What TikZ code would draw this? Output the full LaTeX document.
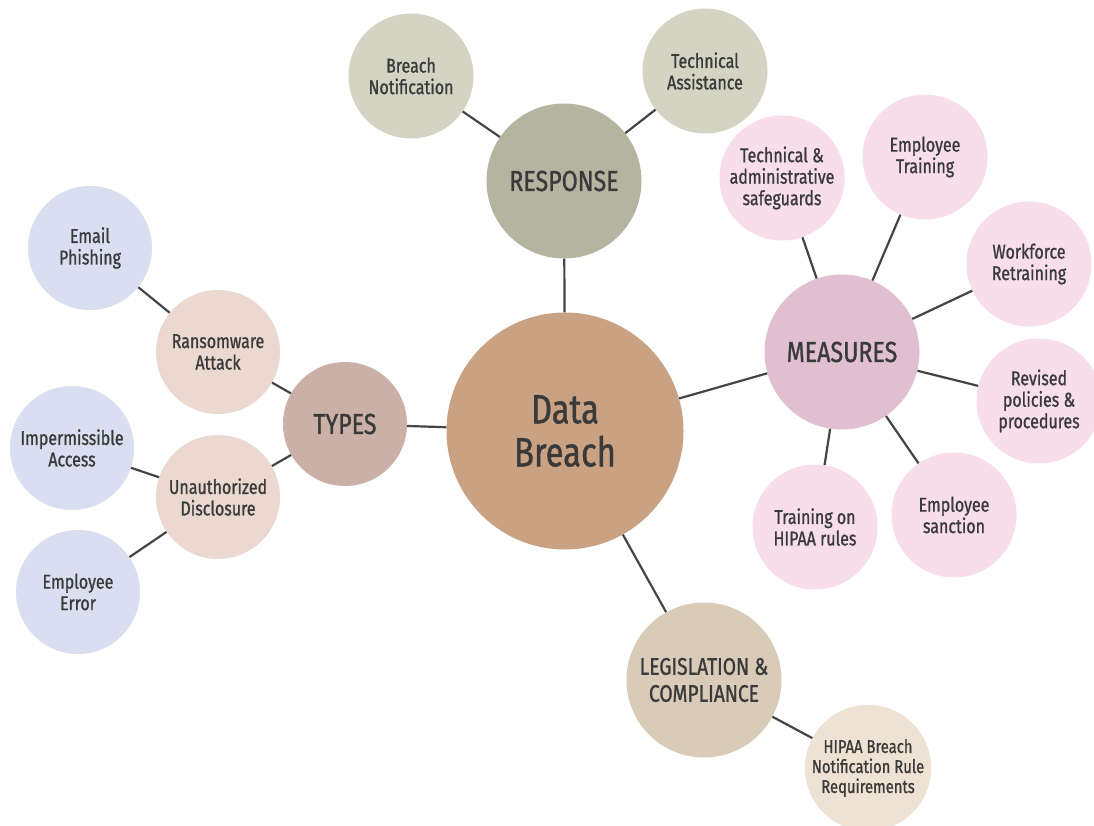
\documentclass[tikz,border=0pt]{standalone}
\usepackage{fontspec}
\setmainfont{Fira Sans}[FakeStretch=0.8,FakeBold=1]
\definecolor{txt}{HTML}{3A3A3A}
\definecolor{lnk}{HTML}{454545}
\definecolor{cData}{HTML}{C9A283}
\definecolor{cResp}{HTML}{B4B4A1}
\definecolor{cRespL}{HTML}{D4D4C4}
\definecolor{cMeas}{HTML}{E0BFD0}
\definecolor{cMeasL}{HTML}{F8DEEB}
\definecolor{cTypes}{HTML}{CBB0A8}
\definecolor{cTypesM}{HTML}{EBD8D0}
\definecolor{cTypesL}{HTML}{D9DFF1}
\definecolor{cLeg}{HTML}{D8CBB8}
\definecolor{cLegL}{HTML}{EDE2D3}
\begin{document}
\begin{tikzpicture}[x=1pt,y=-1pt,
  bub/.style={circle, inner sep=0pt, align=center, text=txt},
  leaf/.style={bub, minimum size=125pt, font=\fontsize{20}{21.5}\selectfont},
  hub/.style={bub, minimum size=155pt, font=\fontsize{29}{30}\selectfont},
  link/.style={draw=lnk, line width=2.2pt}]
\useasboundingbox (0,0) rectangle (1094,826);
\fill[white] (0,0) rectangle (1094,826);

% centre
\node[bub, minimum size=237pt, fill=cData, font=\fontsize{41}{43}\selectfont] (db) at (565,431) {Data\\Breach};

% response
\node[hub, fill=cResp] (resp) at (564,181) {RESPONSE};
\node[leaf, fill=cRespL] (bn) at (411,76) {Breach\\Notification};
\node[leaf, fill=cRespL] (ta) at (705,71) {Technical\\Assistance};

% measures
\node[hub, fill=cMeas] (meas) at (842,352) {MEASURES};
\node[leaf, fill=cMeasL] (tas) at (782,178) {Technical \&\\administrative\\safeguards};
\node[leaf, fill=cMeasL] (et) at (925,157) {Employee\\Training};
\node[leaf, fill=cMeasL] (wr) at (1029,264) {Workforce\\Retraining};
\node[leaf, fill=cMeasL] (rp) at (1039,401) {Revised\\policies \&\\procedures};
\node[leaf, fill=cMeasL] (es) at (954,515) {Employee\\sanction};
\node[leaf, fill=cMeasL] (th) at (815,527) {Training on\\HIPAA rules};

% types
\node[hub, minimum size=124pt, fill=cTypes] (types) at (345,424) {TYPES};
\node[leaf, minimum size=124pt, fill=cTypesM] (ra) at (218,352) {Ransomware\\Attack};
\node[leaf, minimum size=124pt, fill=cTypesM] (ud) at (218,497) {Unauthorized\\Disclosure};
\node[leaf, minimum size=124pt, fill=cTypesL] (ep) at (90,248) {Email\\Phishing};
\node[leaf, minimum size=124pt, fill=cTypesL] (ia) at (72,448) {Impermissible\\Access};
\node[leaf, minimum size=124pt, fill=cTypesL] (ee) at (78,592) {Employee\\Error};

% legislation
\node[bub, minimum size=155pt, fill=cLeg, font=\fontsize{24}{27}\selectfont] (leg) at (704,680) {LEGISLATION \&\\COMPLIANCE};
\node[leaf, fill=cLegL, font=\fontsize{18.5}{20}\selectfont] (hb) at (868,768) {HIPAA Breach\\Notification Rule\\Requirements};

% connectors
\draw[link] (db) -- (resp);
\draw[link] (resp) -- (bn);
\draw[link] (resp) -- (ta);
\draw[link] (db) -- (meas);
\draw[link] (meas) -- (tas);
\draw[link] (meas) -- (et);
\draw[link] (meas) -- (wr);
\draw[link] (meas) -- (rp);
\draw[link] (meas) -- (es);
\draw[link] (meas) -- (th);
\draw[link] (db) -- (types);
\draw[link] (types) -- (ra);
\draw[link] (types) -- (ud);
\draw[link] (ra) -- (ep);
\draw[link] (ud) -- (ia);
\draw[link] (ud) -- (ee);
\draw[link] (db) -- (leg);
\draw[link] (leg) -- (hb);
\end{tikzpicture}
\end{document}
